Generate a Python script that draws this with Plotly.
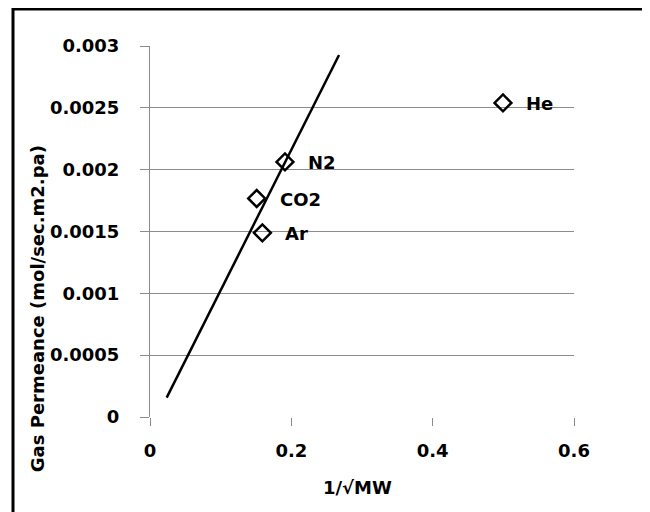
import plotly.graph_objects as go

# Data
gases = ["He", "N2", "CO2", "Ar"]
inv_sqrt_mw = [0.4995, 0.191, 0.151, 0.159]
permeance = [0.00254, 0.002063, 0.001767, 0.001489]

fit_x = [0.0236, 0.2675]
fit_y = [0.000157, 0.002927]

y_tick_vals = [0, 0.0005, 0.001, 0.0015, 0.002, 0.0025, 0.003]
y_tick_text = ["0", "0.0005", "0.001", "0.0015", "0.002", "0.0025", "0.003"]
x_tick_vals = [0, 0.2, 0.4, 0.6]
x_tick_text = ["0", "0.2", "0.4", "0.6"]

FONT = "DejaVu Sans"
OFF = 8  # page body margin
W, H = 642, 504
# plot area in page pixels: x 150..574, y 46..416.7
L, T = 150 - OFF, 46 - OFF
pw, ph = 424, 370.7
R = W - L - pw
B = H - T - ph


def px_to_paper_x(px):
    return (px - OFF - L) / pw


def px_to_paper_y(py):
    return (T + ph - (py - OFF)) / ph


fig = go.Figure()

fig.add_trace(go.Scatter(
    x=fit_x, y=fit_y, mode="lines",
    line=dict(color="black", width=2.5),
    showlegend=False, hoverinfo="skip",
))

fig.add_trace(go.Scatter(
    x=inv_sqrt_mw, y=permeance, mode="markers",
    marker=dict(symbol="diamond-open", size=13, color="black",
                line=dict(color="black", width=2.5)),
    showlegend=False,
))

annotations = []
for g, xv, yv in zip(gases, inv_sqrt_mw, permeance):
    annotations.append(dict(
        x=xv, y=yv, xref="x", yref="y", text=g, showarrow=False,
        xanchor="left", yanchor="middle", xshift=21, yshift=-1,
        font=dict(family=FONT, size=18, color="black", weight="bold"),
    ))

annotations.append(dict(
    x=px_to_paper_x(37), y=px_to_paper_y(309), xref="paper", yref="paper",
    text="Gas Permeance (mol/sec.m2.pa)", textangle=-90, showarrow=False,
    xanchor="center", yanchor="middle",
    font=dict(family=FONT, size=18, color="black", weight="bold"),
))
annotations.append(dict(
    x=px_to_paper_x(357), y=px_to_paper_y(487), xref="paper", yref="paper",
    text="1/√MW", showarrow=False, xanchor="center", yanchor="middle",
    font=dict(family=FONT, size=18, color="black", weight="bold"),
))

fig.update_layout(
    width=W, height=H,
    margin=dict(l=L, r=R, t=T, b=B),
    paper_bgcolor="white", plot_bgcolor="white",
    font=dict(family=FONT, size=18, color="black"),
    annotations=annotations,
    shapes=[dict(
        type="rect", xref="paper", yref="paper",
        x0=px_to_paper_x(13), x1=px_to_paper_x(645),
        y0=px_to_paper_y(530), y1=px_to_paper_y(9),
        line=dict(color="black", width=3), fillcolor="rgba(0,0,0,0)",
        layer="above",
    )],
)

fig.update_xaxes(
    range=[0, 0.6], tickvals=x_tick_vals, ticktext=x_tick_text,
    showgrid=False, zeroline=False,
    showline=False, ticks="outside", ticklen=8, tickcolor="#8c8c8c",
    tickfont=dict(family=FONT, size=18, color="black", weight="bold"),
    ticklabelstandoff=9,
)
fig.update_yaxes(
    range=[0, 0.003], tickvals=y_tick_vals, ticktext=y_tick_text,
    showgrid=True, gridcolor="#8c8c8c", gridwidth=1, zeroline=False,
    showline=True, linecolor="#8c8c8c", linewidth=1,
    ticks="outside", ticklen=9, tickcolor="#8c8c8c",
    tickfont=dict(family=FONT, size=18, color="black", weight="bold"),
    ticklabelstandoff=17,
)

fig.write_html("out.html")
